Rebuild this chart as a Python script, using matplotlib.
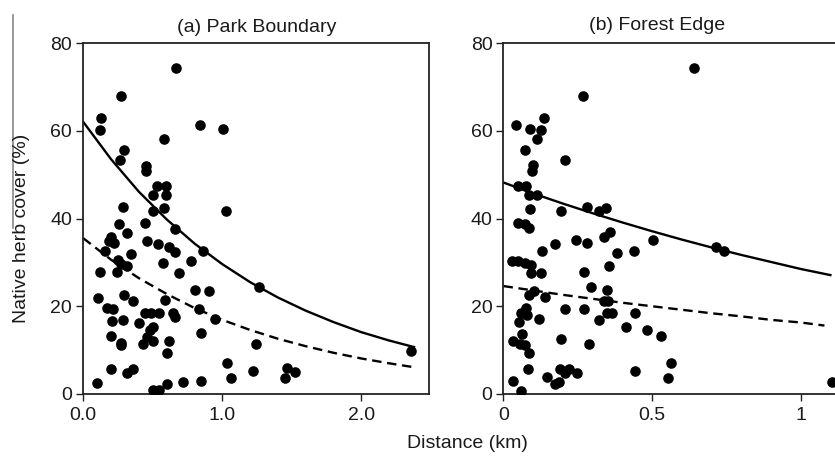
import matplotlib
matplotlib.use("Agg")
import matplotlib.pyplot as plt
from matplotlib.lines import Line2D

plt.rcParams['font.family'] = ['Liberation Sans', 'DejaVu Sans']

# (a) Park Boundary - observed points
park_x = [0.669, 0.273, 0.130, 0.120, 0.840, 1.007, 0.583, 0.293, 0.264, 0.451,
          0.451, 0.530, 0.597, 0.501, 0.597, 0.283, 0.501, 0.580, 1.029, 0.254,
          0.441, 0.662, 0.312, 0.201, 0.221, 0.182, 0.460, 0.537, 0.614, 0.662,
          0.859, 0.158, 0.341, 0.250, 0.269, 0.317, 0.576, 0.777, 0.122, 0.245,
          0.691, 0.801, 0.906, 0.106, 0.293, 0.360, 0.585, 0.168, 0.211, 0.830,
          0.441, 0.485, 0.547, 0.643, 0.657, 0.945, 0.206, 0.283, 0.399, 0.499,
          0.480, 0.849, 0.197, 0.456, 0.273, 0.273, 0.427, 0.504, 0.614, 0.600,
          0.197, 0.312, 0.360, 1.032, 1.065, 0.096, 0.504, 0.547, 0.604, 0.719,
          0.849, 1.266, 1.242, 1.219, 1.463, 1.521, 1.453, 2.360]
park_y = [74.4, 67.9, 62.9, 60.2, 61.3, 60.4, 58.1, 55.5, 53.4, 52.0,
          50.8, 47.4, 47.4, 45.3, 45.3, 42.7, 41.8, 42.4, 41.6, 38.7,
          38.9, 37.7, 36.7, 35.7, 34.5, 34.9, 34.9, 34.2, 33.6, 32.3,
          32.6, 32.6, 32.0, 30.5, 29.6, 29.2, 29.8, 30.2, 27.7, 27.9,
          27.6, 23.7, 23.5, 21.9, 22.5, 21.1, 21.4, 19.7, 19.3, 19.3,
          18.4, 18.4, 18.4, 18.4, 17.5, 17.2, 16.7, 16.9, 16.2, 15.3,
          14.7, 13.8, 13.2, 12.9, 11.7, 11.2, 11.4, 12.1, 12.1, 9.3,
          5.8, 4.9, 5.8, 7.0, 3.6, 2.6, 0.8, 0.8, 2.3, 2.7,
          3.0, 24.3, 11.4, 5.2, 5.9, 5.0, 3.6, 9.7]

# (a) fitted curves
park_fit_x = [0.0, 0.2, 0.4, 0.6, 0.8, 1.0, 1.2, 1.4, 1.6, 1.8, 2.0, 2.2, 2.38]
park_fit_solid = [62.0, 53.5, 46.1, 39.8, 34.3, 29.6, 25.5, 22.0, 19.0, 16.4, 14.1, 12.2, 10.7]
park_fit_dashed = [35.5, 30.6, 26.4, 22.8, 19.6, 16.9, 14.6, 12.6, 10.9, 9.4, 8.1, 7.0, 6.1]

# (b) Forest Edge - observed points
forest_x = [0.269, 0.043, 0.136, 0.090, 0.127, 0.113, 0.073, 0.206, 0.100, 0.096,
            0.049, 0.076, 0.087, 0.114, 0.090, 0.192, 0.281, 0.321, 0.346, 0.049,
            0.073, 0.087, 0.358, 0.338, 0.502, 0.244, 0.280, 0.174, 0.130, 0.439,
            0.381, 0.029, 0.049, 0.073, 0.094, 0.092, 0.127, 0.271, 0.356, 0.293,
            0.347, 0.103, 0.087, 0.141, 0.338, 0.352, 0.206, 0.271, 0.076, 0.060,
            0.080, 0.347, 0.365, 0.443, 0.118, 0.320, 0.051, 0.412, 0.484, 0.531,
            0.062, 0.192, 0.033, 0.056, 0.073, 0.287, 0.087, 0.082, 0.190, 0.221,
            0.246, 0.206, 0.443, 0.033, 0.147, 0.174, 0.186, 0.060, 0.642, 0.714,
            0.741, 0.564, 0.555, 1.104]
forest_y = [67.9, 61.3, 62.9, 60.4, 60.2, 58.1, 55.5, 53.3, 52.1, 50.9,
            47.4, 47.4, 45.3, 45.3, 42.2, 41.6, 42.7, 41.6, 42.4, 39.0,
            38.7, 37.8, 36.9, 35.8, 35.1, 35.1, 34.5, 34.2, 32.6, 32.5,
            32.2, 30.4, 30.4, 29.8, 29.5, 27.6, 27.6, 27.9, 29.2, 24.3,
            23.7, 23.5, 22.5, 22.0, 21.1, 21.3, 19.3, 19.3, 19.7, 18.4,
            17.9, 18.4, 18.4, 18.4, 17.2, 16.9, 16.4, 15.3, 14.7, 13.2,
            13.7, 12.6, 12.1, 11.5, 11.2, 11.5, 9.4, 5.8, 5.8, 5.8,
            4.9, 4.9, 5.2, 3.0, 3.8, 2.3, 2.7, 0.6, 74.4, 33.6,
            32.6, 7.0, 3.6, 2.7]

# (b) fitted curves
forest_fit_x = [0.0, 0.1, 0.2, 0.3, 0.4, 0.5, 0.6, 0.7, 0.8, 0.9, 1.0, 1.1]
forest_fit_solid = [48.2, 45.7, 43.4, 41.2, 39.1, 37.1, 35.2, 33.4, 31.7, 30.1, 28.5, 27.1]
forest_dash_x = [0.0, 0.1, 0.2, 0.3, 0.4, 0.5, 0.6, 0.7, 0.8, 0.9, 1.0, 1.08]
forest_fit_dashed = [24.6, 23.6, 22.6, 21.7, 20.8, 20.0, 19.2, 18.4, 17.7, 16.9, 16.3, 15.6]

W, H = 835, 457
fig = plt.figure(figsize=(W / 100, H / 100), dpi=100)

ax1 = fig.add_axes([83.3 / W, 63 / H, 346 / W, 351 / H])
ax2 = fig.add_axes([503.5 / W, 63 / H, 356.6 / W, 351 / H])

txt = '#1a1a1a'
fs = 14


def style(ax, xlim, xticks, xlabels, title):
    ax.set_xlim(*xlim)
    ax.set_ylim(0, 80)
    ax.set_yticks([0, 20, 40, 60, 80])
    ax.set_xticks(xticks)
    ax.set_xticklabels(xlabels)
    ax.tick_params(direction='out', length=5, width=1, labelsize=fs,
                   colors='#222222', labelcolor=txt, pad=3)
    ax.tick_params(axis='x', pad=4)
    for s in ax.spines.values():
        s.set_linewidth(1.3)
        s.set_color('#222222')
    ax.set_title(title, fontsize=fs, color=txt, pad=8)


ax1.scatter(park_x, park_y, s=58, color='black', zorder=3, linewidths=0)
ax1.plot(park_fit_x, park_fit_solid, color='black', lw=1.7)
ax1.plot(park_fit_x, park_fit_dashed, color='black', lw=1.7, dashes=(4, 2.4))
style(ax1, (0, 2.49), [0, 1, 2], ['0.0', '1.0', '2.0'], '(a) Park Boundary')

ax2.scatter(forest_x, forest_y, s=58, color='black', zorder=3, linewidths=0)
ax2.plot(forest_fit_x, forest_fit_solid, color='black', lw=1.7)
ax2.plot(forest_dash_x, forest_fit_dashed, color='black', lw=1.7, dashes=(4, 2.4))
style(ax2, (0, 1.2), [0, 0.5, 1], ['0', '0.5', '1'], '')
fig.text(657 / W, 1 - 25 / H, '(b) Forest Edge', fontsize=fs, color=txt,
         ha='center', va='center')

fig.text(22 / W, 1 - 228 / H, 'Native herb cover (%)', rotation=90,
         fontsize=fs, color=txt, ha='center', va='center')
fig.text(467 / W, 1 - 443 / H, 'Distance (km)', fontsize=fs, color=txt,
         ha='center', va='center')

# thin grey frame edge at far left, as in the source image
fig.add_artist(Line2D([13 / W, 13 / W], [1 - 15 / H, 1 - 228 / H],
                      color='#888888', lw=1.2))

fig.savefig('out.png', dpi=100)
